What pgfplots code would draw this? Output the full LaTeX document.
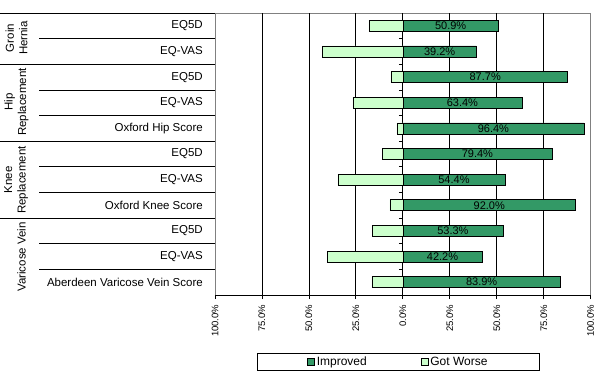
\documentclass[border=0pt]{standalone}
\usepackage{fontspec}
\setmainfont{Liberation Sans}
\usepackage{pgfplots}
\pgfplotsset{compat=1.18}
\definecolor{impr}{RGB}{51,153,102}
\definecolor{worse}{RGB}{204,255,204}
\definecolor{framec}{RGB}{128,128,128}
\begin{document}
\begin{tikzpicture}
\path[use as bounding box] (-215pt,-83pt) rectangle (385pt,295pt);
\pgfmathsetmacro{\h}{282/11}
\begin{axis}[
  at={(0pt,0pt)}, anchor=south west,
  scale only axis, width=375.7pt, height=282pt,
  xmin=-100, xmax=100, ymin=0.5, ymax=11.5, y dir=reverse,
  xbar, bar width=11pt, bar shift=0pt,
  /pgf/number format/assume math mode=true,
  axis line style={draw=framec, line width=0.8pt},
  xtick={-100,-75,...,100},
  xticklabels={100.0\%,75.0\%,50.0\%,25.0\%,0.0\%,25.0\%,50.0\%,75.0\%,100.0\%},
  xtick pos=bottom, xtick align=outside, major tick length=4pt,
  tick style={black, line width=0.8pt},
  xticklabel style={rotate=90, anchor=east, font=\fontsize{9.5}{11}\selectfont, inner sep=5.5pt},
  ytick=\empty,
  extra x ticks={-75,-50,-25,0,25,50,75},
  extra x tick labels={},
  extra x tick style={grid=major, major grid style={black, line width=0.8pt}, major tick length=0pt},
  legend columns=2,
  legend style={at={(0.488,-0.2369)}, anchor=center, draw=black, line width=0.8pt,
    font=\fontsize{12}{14}\selectfont, inner xsep=50pt, inner ysep=1.5pt,
    /tikz/every even column/.append style={column sep=52pt}},
  legend image code/.code={\draw[#1, line width=0.6pt] (0pt,-3.5pt) rectangle (7pt,3.5pt);},
]
\addplot[fill=impr, draw=black, line width=0.6pt, point meta=x,
  visualization depends on={x \as \rawx},
  nodes near coords={\pgfmathprintnumber[fixed,fixed zerofill,precision=1]{\pgfplotspointmeta}\%},
  nodes near coords style={anchor=center, shift={(axis direction cs:-\rawx/2,0)}, font=\fontsize{11}{13}\selectfont, text=black}]
  coordinates {(50.9,1) (39.2,2) (87.7,3) (63.4,4) (96.4,5) (79.4,6) (54.4,7) (92.0,8) (53.3,9) (42.2,10) (83.9,11)};
\addplot[fill=worse, draw=black, line width=0.6pt]
  coordinates {(-18.1,1) (-42.9,2) (-6.4,3) (-26.6,4) (-3.2,5) (-10.7,6) (-34.6,7) (-6.9,8) (-16.0,9) (-40.0,10) (-16.5,11)};
\legend{Improved, Got Worse}
\end{axis}
\draw[black, line width=0.8pt] (0pt,0pt) -- (375.7pt,0pt);
\foreach \k in {0,2,5,8} \draw[black, line width=0.8pt] (-215pt,{(282-\k*\h)*1pt}) -- (0pt,{(282-\k*\h)*1pt});
\foreach \k in {1,3,4,6,7,9,10} \draw[black, line width=0.8pt] (-175.7pt,{(282-\k*\h)*1pt}) -- (0pt,{(282-\k*\h)*1pt});
\foreach \k in {1,...,10} \draw[black, line width=0.8pt] (183.85pt,{(282-\k*\h)*1pt}) -- (187.85pt,{(282-\k*\h)*1pt});
\begin{scope}[every node/.style={font=\fontsize{11.5}{13.5}\selectfont, inner sep=0pt}]
\foreach \lab [count=\i] in {EQ5D,EQ-VAS,EQ5D,EQ-VAS,Oxford Hip Score,EQ5D,EQ-VAS,Oxford Knee Score,EQ5D,EQ-VAS,Aberdeen Varicose Vein Score}
  \node[anchor=east] at (-12pt,{(282-(\i-0.5)*\h)*1pt}) {\lab};
\node[rotate=90, align=center] at (-198.5pt,257pt) {Groin\\Hernia};
\node[rotate=90, align=center] at (-198.5pt,193pt) {Hip\\Replacement};
\node[rotate=90, align=center] at (-199pt,115pt) {Knee\\Replacement};
\node[rotate=90, align=center] at (-193.5pt,38pt) {Varicose Vein};
\end{scope}
\end{tikzpicture}
\end{document}
